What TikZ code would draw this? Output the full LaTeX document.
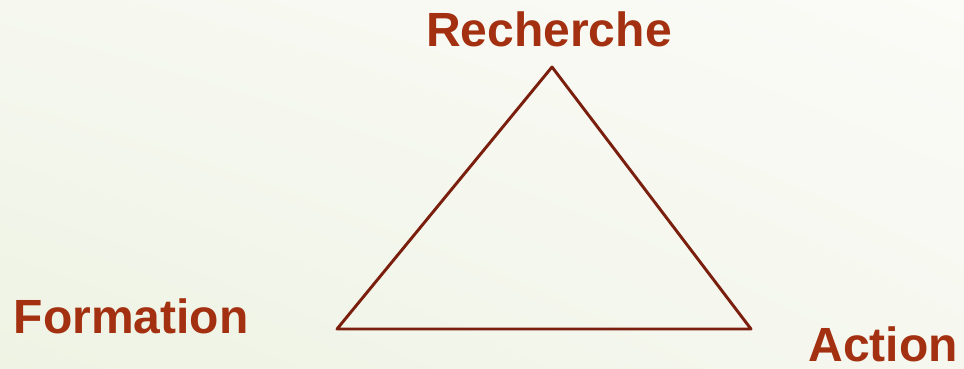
\documentclass[tikz,border=0pt]{standalone}
\usepackage{fontspec}
\setmainfont{Liberation Sans}
\usepackage{xcolor}
\usetikzlibrary{positioning, shadings}
\definecolor{labelred}{RGB}{163,48,16}
\definecolor{edgebrown}{RGB}{122,30,14}
\definecolor{bgcream}{RGB}{251,251,247}
\definecolor{bggreen}{RGB}{238,243,228}

\begin{document}
\begin{tikzpicture}[
    x=0.75pt, y=-0.75pt,
    pole/.style={font=\fontsize{36}{40}\selectfont\bfseries, text=labelred, inner sep=0pt},
    edge/.style={draw=edgebrown, line width=2.2pt, line join=round}
]

% fond
\shade[lower left=bggreen, upper right=bgcream, lower right=bgcream!60!bggreen, upper left=bgcream!60!bggreen]
    (0,0) rectangle (964,368);
\useasboundingbox (0,0) rectangle (964,368);

% sommets
\coordinate (top) at (552,67);
\coordinate (left) at (337,329);
\coordinate (right) at (751,329);

\draw[edge] (top) -- (right) -- (left) -- cycle;

% etiquettes
\node[pole, anchor=base] (rech) at (549,46) {Recherche};
\node[pole, anchor=base] (form) at (131,333) {Formation};
\node[pole, anchor=base] (act) at (883,361) {Action};

\end{tikzpicture}
\end{document}
